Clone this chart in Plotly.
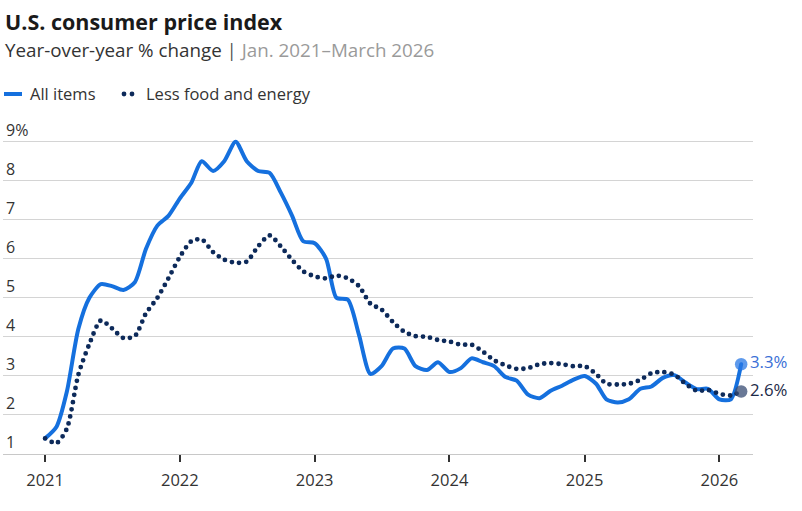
import pandas as pd
import plotly.graph_objects as go

# ---- data (Jan 2021 – Mar 2026, monthly) ----
months = pd.date_range("2021-01-01", periods=63, freq="MS")

all_items = [
    1.4, 1.7, 2.6, 4.2, 5.0, 5.35, 5.3, 5.2, 5.4, 6.25, 6.85, 7.1,
    7.55, 7.95, 8.5, 8.25, 8.5, 9.0, 8.5, 8.25, 8.2, 7.7, 7.1, 6.45,
    6.4, 6.0, 5.0, 4.95, 4.05, 3.05, 3.25, 3.7, 3.7, 3.25, 3.15, 3.35,
    3.1, 3.2, 3.45, 3.35, 3.25, 2.97, 2.88, 2.52, 2.43, 2.62, 2.75, 2.9,
    3.0, 2.8, 2.4, 2.32, 2.4, 2.67, 2.73, 2.95, 3.02, 2.83, 2.66, 2.67,
    2.4, 2.4, 3.3,
]

core = [
    1.4, 1.28, 1.65, 3.03, 3.82, 4.42, 4.22, 3.97, 4.02, 4.6, 5.0, 5.5,
    6.05, 6.45, 6.5, 6.17, 5.98, 5.9, 5.93, 6.32, 6.6, 6.32, 5.97, 5.68,
    5.55, 5.5, 5.57, 5.5, 5.3, 4.85, 4.7, 4.38, 4.13, 4.02, 4.0, 3.92,
    3.88, 3.8, 3.8, 3.62, 3.4, 3.27, 3.18, 3.2, 3.3, 3.33, 3.3, 3.25,
    3.25, 3.05, 2.8, 2.78, 2.8, 2.9, 3.07, 3.1, 3.03, 2.8, 2.62, 2.64,
    2.54, 2.5, 2.6,
]

series_names = ["All items", "Less food and energy"]
year_ticks = ["2021-01-01", "2022-01-01", "2023-01-01", "2024-01-01", "2025-01-01", "2026-01-01"]
year_labels = ["2021", "2022", "2023", "2024", "2025", "2026"]
y_ticks = [1, 2, 3, 4, 5, 6, 7, 8, 9]
y_labels = ["1", "2", "3", "4", "5", "6", "7", "8", "9%"]

BLUE = "#1570de"
NAVY = "#0d2a5a"
FONT = "Open Sans"

W, H = 802, 511
ML, MR, MT, MB = 3, 49, 137, 57
PW, PH = W - ML - MR, H - MT - MB


def px_x(p):
    return (p - ML) / PW


def px_y(p):
    return (H - MB - p) / PH


fig = go.Figure()

fig.add_trace(go.Scatter(
    x=months, y=all_items, name=series_names[0], mode="lines",
    line=dict(color=BLUE, width=4, shape="spline", smoothing=0.7),
    hoverinfo="skip", showlegend=False,
))
fig.add_trace(go.Scatter(
    x=months, y=core, name=series_names[1], mode="lines",
    line=dict(color=NAVY, width=4.8, shape="spline", smoothing=0.7, dash="0px,7.2px"),
    hoverinfo="skip", showlegend=False,
))

# end-point markers and labels
fig.add_trace(go.Scatter(
    x=[months[-1]], y=[all_items[-1]], mode="markers+text",
    marker=dict(size=12.5, color="rgba(40,120,230,0.75)"),
    text=[f"{all_items[-1]:.1f}%"], textposition="middle right",
    textfont=dict(family=FONT, size=16.8, color="#3a6fd6"),
    showlegend=False, cliponaxis=False, hoverinfo="skip",
))
fig.add_trace(go.Scatter(
    x=[months[-1]], y=[core[-1]], mode="markers+text",
    marker=dict(size=12.5, color="rgba(55,75,115,0.75)"),
    text=[f"{core[-1]:.1f}%"], textposition="middle right",
    textfont=dict(family=FONT, size=16.8, color="#1c2a48"),
    showlegend=False, cliponaxis=False, hoverinfo="skip",
))

# legend (drawn as layout decorations)
LEG_Y = px_y(94)
shapes = [
    dict(type="line", xref="paper", yref="paper", xsizemode="pixel", ysizemode="pixel",
         xanchor=px_x(4), yanchor=LEG_Y, x0=0, x1=18, y0=0, y1=0,
         line=dict(color=BLUE, width=4)),
]
for dot_px in (124, 132):
    shapes.append(dict(type="circle", xref="paper", yref="paper", xsizemode="pixel",
                       ysizemode="pixel", xanchor=px_x(dot_px), yanchor=LEG_Y,
                       x0=-2.4, x1=2.4, y0=-2.4, y1=2.4,
                       fillcolor=NAVY, line=dict(width=0)))

annotations = [
    dict(text="<b>U.S. consumer price index</b>", xref="paper", yref="paper",
         x=px_x(3), y=px_y(21), xanchor="left", yanchor="middle",
         showarrow=False, font=dict(family=FONT, size=21.5, color="#1a1a1a")),
    dict(text="Year-over-year % change <span style='color:#555'>|</span> "
              "<span style='color:#9a9a9a'>Jan. 2021–March 2026</span>",
         xref="paper", yref="paper", x=px_x(3), y=px_y(50), xanchor="left", yanchor="middle",
         showarrow=False, font=dict(family=FONT, size=18.8, color="#333")),
    dict(text=series_names[0], xref="paper", yref="paper", x=px_x(28), y=LEG_Y,
         xanchor="left", yanchor="middle", showarrow=False,
         font=dict(family=FONT, size=16.5, color="#333")),
    dict(text=series_names[1], xref="paper", yref="paper", x=px_x(144), y=LEG_Y,
         xanchor="left", yanchor="middle", showarrow=False,
         font=dict(family=FONT, size=16.5, color="#333")),
]

fig.update_layout(
    width=W, height=H,
    margin=dict(l=ML, r=MR, t=MT, b=MB),
    paper_bgcolor="white", plot_bgcolor="white",
    font=dict(family=FONT, color="#333"),
    showlegend=False,
    shapes=shapes,
    annotations=annotations,
)

fig.update_xaxes(
    type="date", range=["2020-09-09", "2026-04-02"],
    tickvals=year_ticks, ticktext=year_labels,
    ticks="outside", ticklen=7, tickwidth=1.5, tickcolor="#333",
    showgrid=False, showline=True, linecolor="#c8c8c8", linewidth=1,
    tickfont=dict(family=FONT, size=16.5, color="#333"),
    ticklabelstandoff=4, zeroline=False, fixedrange=True,
)
fig.update_yaxes(
    range=[1, 9.12], tickvals=y_ticks, ticktext=y_labels,
    ticklabelposition="inside top", ticklabeloverflow="allow",
    ticks="", showgrid=True, gridcolor="#d4d4d4", gridwidth=1,
    tickfont=dict(family=FONT, size=16, color="#333"),
    zeroline=False, showline=False, fixedrange=True,
)

post = """
var s=document.createElement('style');
s.innerHTML='html,body{margin:0;padding:0;} .js-line{stroke-linecap:round !important;}';
document.head.appendChild(s);
"""
fig.write_html("out.html", post_script=post, config={"displayModeBar": False})
